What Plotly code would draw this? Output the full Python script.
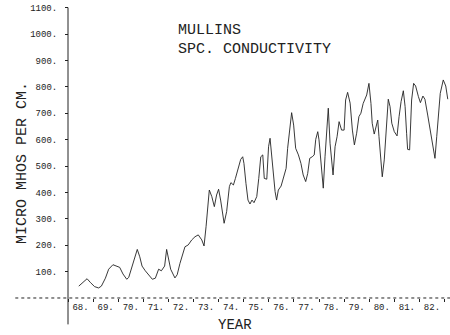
import plotly.graph_objects as go

# Decimal year and specific conductance (micro mhos per cm)
years = [1968.43, 1968.60, 1968.76, 1968.90, 1969.06, 1969.22, 1969.33, 1969.49, 1969.62, 1969.79,
         1969.96, 1970.06, 1970.19, 1970.34, 1970.42, 1970.55, 1970.66, 1970.76, 1970.86, 1970.95,
         1971.08, 1971.24, 1971.36, 1971.48, 1971.61, 1971.72, 1971.85, 1971.93, 1972.01, 1972.09,
         1972.26, 1972.35, 1972.46, 1972.66, 1972.79, 1972.93, 1973.06, 1973.19, 1973.33, 1973.42,
         1973.50, 1973.55, 1973.63, 1973.73, 1973.83, 1973.92, 1974.00, 1974.08, 1974.16, 1974.22,
         1974.32, 1974.43, 1974.49, 1974.59, 1974.67, 1974.78, 1974.88, 1974.96, 1975.01, 1975.09,
         1975.17, 1975.25, 1975.33, 1975.41, 1975.52, 1975.60, 1975.68, 1975.76, 1975.82, 1975.92,
         1975.99, 1976.05, 1976.09, 1976.14, 1976.18, 1976.25, 1976.31, 1976.38, 1976.49, 1976.58,
         1976.69, 1976.75, 1976.83, 1976.91, 1976.99, 1977.07, 1977.18, 1977.28, 1977.37, 1977.47,
         1977.55, 1977.63, 1977.73, 1977.81, 1977.87, 1977.95, 1978.00, 1978.08, 1978.15, 1978.17,
         1978.24, 1978.32, 1978.37, 1978.44, 1978.51, 1978.56, 1978.64, 1978.72, 1978.80, 1978.90,
         1979.00, 1979.06, 1979.14, 1979.24, 1979.33, 1979.41, 1979.50, 1979.59, 1979.67, 1979.76,
         1979.90, 1979.99, 1980.07, 1980.12, 1980.20, 1980.27, 1980.34, 1980.39, 1980.44, 1980.52,
         1980.60, 1980.68, 1980.76, 1980.83, 1980.90, 1981.00, 1981.11, 1981.19, 1981.27, 1981.36,
         1981.43, 1981.49, 1981.53, 1981.61, 1981.69, 1981.77, 1981.85, 1981.96, 1982.04, 1982.14,
         1982.22, 1982.33, 1982.43, 1982.53, 1982.62, 1982.69, 1982.75, 1982.83, 1982.95, 1983.05,
         1983.13]
conductivity = [45, 58, 73, 58, 43, 38, 45, 75, 109, 126,
                121, 116, 91, 71, 78, 121, 154, 184, 156, 121,
                103, 87, 71, 75, 109, 103, 121, 184, 150, 109,
                76, 88, 131, 194, 201, 220, 232, 239, 220, 197,
                270, 333, 409, 384, 346, 390, 412, 371, 314, 283,
                327, 422, 437, 428, 453, 497, 525, 535, 510, 434,
                371, 356, 371, 361, 384, 453, 535, 542, 453, 450,
                573, 605, 561, 497, 453, 403, 371, 409, 424, 459,
                491, 567, 649, 702, 655, 567, 542, 510, 466, 441,
                472, 529, 535, 542, 601, 630, 599, 523, 453, 416,
                535, 662, 719, 586, 504, 466, 573, 611, 668, 636,
                636, 750, 779, 738, 636, 580, 624, 687, 700, 737,
                769, 813, 737, 662, 621, 643, 674, 611, 535, 459,
                523, 662, 753, 725, 662, 630, 614, 687, 744, 785,
                725, 624, 563, 561, 750, 813, 803, 763, 740, 765,
                753, 693, 630, 573, 529, 611, 700, 775, 826, 803,
                753]

x_tick_years = [1968.5 + i for i in range(15)]
x_tick_labels = ["68.", "69.", "70.", "71.", "72.", "73.", "74.", "75.",
                 "76.", "77.", "78.", "79.", "80.", "81.", "82."]
x_boundaries = [1968 + i for i in range(16)]
y_tick_vals = [100, 200, 300, 400, 500, 600, 700, 800, 900, 1000, 1100]
y_tick_labels = ["100.", "200.", "300.", "400.", "500.", "600.", "700.",
                 "800.", "900.", "1000.", "1100."]

FONT = "Liberation Mono"
INK = "#222222"

fig = go.Figure()
fig.add_trace(go.Scatter(x=years, y=conductivity, mode="lines",
                         line=dict(color=INK, width=0.9), showlegend=False,
                         hoverinfo="skip"))

# axis lines
fig.add_shape(type="line", x0=1965.9, x1=1983.22, y0=0, y1=0,
              line=dict(color=INK, width=1, dash="dot"))
fig.add_shape(type="line", x0=1968, x1=1968, y0=-100, y1=1100,
              line=dict(color=INK, width=1))

fig.update_layout(
    width=450, height=335,
    margin=dict(l=0, r=0, t=0, b=0),
    paper_bgcolor="white", plot_bgcolor="white",
    xaxis=dict(range=[1965.291, 1983.219], domain=[0, 1], anchor="free",
               position=(335 - 298) / 335,
               tickmode="array", tickvals=x_tick_years, ticktext=x_tick_labels,
               ticks="", showgrid=False, zeroline=False, showline=False,
               tickfont=dict(family=FONT, size=9, color=INK),
               ticklabelstandoff=2,
               minor=dict(tickmode="array", tickvals=x_boundaries, ticks="outside",
                          ticklen=3, tickcolor=INK, showgrid=False)),
    yaxis=dict(range=[-140.2, 1128.8], domain=[0, 1], anchor="free",
               position=68 / 450,
               tickmode="array", tickvals=y_tick_vals, ticktext=y_tick_labels,
               ticks="outside", ticklen=3, tickcolor=INK,
               showgrid=False, zeroline=False, showline=False,
               tickfont=dict(family=FONT, size=9, color=INK),
               ticklabelstandoff=6),
    annotations=[
        dict(text="MULLINS", x=176 / 450, y=1 - 31 / 335, xref="paper", yref="paper",
             xanchor="left", yanchor="middle", showarrow=False,
             font=dict(family=FONT, size=15, color=INK)),
        dict(text="SPC. CONDUCTIVITY", x=176 / 450, y=1 - 50 / 335, xref="paper",
             yref="paper", xanchor="left", yanchor="middle", showarrow=False,
             font=dict(family=FONT, size=15, color=INK)),
        dict(text="MICRO MHOS PER CM.", x=22 / 450, y=1 - 163 / 335, xref="paper",
             yref="paper", xanchor="center", yanchor="middle", showarrow=False,
             textangle=-90, font=dict(family=FONT, size=15, color=INK)),
        dict(text="YEAR", x=235 / 450, y=1 - 325 / 335, xref="paper", yref="paper",
             xanchor="center", yanchor="middle", showarrow=False,
             font=dict(family=FONT, size=14, color=INK)),
    ],
)

fig.write_html("out.html")
